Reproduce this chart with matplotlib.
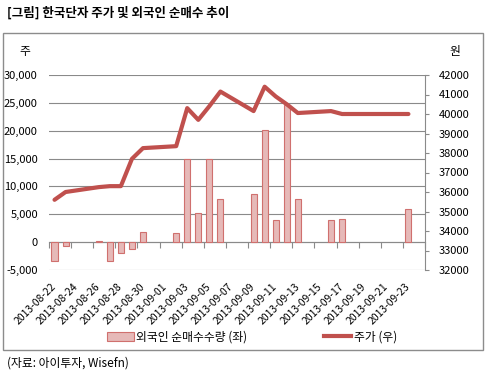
import numpy as np
import pandas as pd
import matplotlib
matplotlib.use("Agg")
from matplotlib import pyplot as plt
import matplotlib.dates as mdates
import matplotlib.patches as mpatches
from matplotlib.lines import Line2D
from matplotlib.ticker import FuncFormatter

plt.rcParams['font.family'] = ['Noto Sans CJK KR', 'DejaVu Sans']

# trading days
dates = pd.to_datetime([
    "2013-08-22", "2013-08-23", "2013-08-26", "2013-08-27", "2013-08-28",
    "2013-08-29", "2013-08-30", "2013-09-02", "2013-09-03", "2013-09-04",
    "2013-09-05", "2013-09-06", "2013-09-09", "2013-09-10", "2013-09-11",
    "2013-09-12", "2013-09-13", "2013-09-16", "2013-09-17", "2013-09-23"])
net_buy = [-3400, -700, 150, -3300, -2000, -1300, 1900, 1700, 15000, 5300,
           14900, 7700, 8700, 20200, 3900, 24700, 7700, 3900, 4100, 5900]
price = [35600, 36000, 36250, 36300, 36300, 37700, 38250, 38350, 40300, 39700,
         40400, 41150, 40150, 41400, 40900, 40500, 40050, 40150, 40000, 40000]
label_dates = pd.date_range("2013-08-22", "2013-09-23", freq="2D")
bar_name = "외국인 순매수수량 (좌)"
line_name = "주가 (우)"

x = mdates.date2num(dates)
x0 = mdates.date2num(pd.Timestamp("2013-08-22")) - 0.5
x1 = mdates.date2num(pd.Timestamp("2013-09-24")) + 0.5

bar_face = "#e6b9b8"
bar_edge = "#d0706e"
line_col = "#c0504d"
grid_col = "#8a8a8a"

fig = plt.figure(figsize=(4.89, 3.73), dpi=100)
ax = fig.add_axes([49 / 489, 1 - 270 / 373, 376 / 489, 195 / 373])
ax2 = ax.twinx()

ax.bar(x, net_buy, width=0.55, color=bar_face, edgecolor=bar_edge, linewidth=0.8, zorder=2)
ax.set_xlim(x0, x1)
ax.set_ylim(-5000, 30000)
ax.set_yticks(np.arange(-5000, 30001, 5000))
ax.yaxis.set_major_formatter(FuncFormatter(lambda v, p: f"{int(v):,}"))
ax.grid(axis='y', color=grid_col, linewidth=0.8)
ax.set_axisbelow(True)
for s in ax.spines.values():
    s.set_visible(False)
ax.tick_params(axis='y', length=0, pad=8, labelsize=8)

# labels at bottom
ax.set_xticks(mdates.date2num(label_dates))
ax.set_xticklabels([d.strftime("%Y-%m-%d") for d in label_dates], rotation=45,
                   ha='right', va='center', rotation_mode='anchor', fontsize=7.5)
ax.tick_params(axis='x', length=0, pad=11)

# zero axis line with tick marks
zero_loc = 5000 / 35000
sec = ax.secondary_xaxis(zero_loc)
sec.set_xticks(np.arange(x0, x1 + 0.1, 2))
sec.set_xticklabels([])
sec.tick_params(axis='x', length=4, color=grid_col, direction='out')
sec.spines['bottom'].set_color(grid_col)
sec.spines['bottom'].set_linewidth(0.8)

ax2.plot(x, price, color=line_col, linewidth=3, solid_joinstyle='round', solid_capstyle='round', zorder=3)
ax2.set_ylim(32000, 42000)
ax2.set_yticks(np.arange(32000, 42001, 1000))
for k, s in ax2.spines.items():
    s.set_visible(k == 'right')
ax2.spines['right'].set_color(grid_col)
ax2.spines['right'].set_linewidth(0.8)
ax2.tick_params(axis='y', length=3, color=grid_col, pad=7, labelsize=8)

fig.text(7 / 489, 1 - 13 / 373, "[그림] 한국단자 주가 및 외국인 순매수 추이", fontsize=9,
         fontweight='bold', ha='left', va='center')
fig.text(25 / 489, 1 - 52 / 373, "주", fontsize=8.5, ha='center', va='center')
fig.text(455 / 489, 1 - 52 / 373, "원", fontsize=8.5, ha='center', va='center')
fig.text(7 / 489, 1 - 363 / 373, "(자료: 아이투자, Wisefn)", fontsize=8.5, ha='left', va='center')

handles = [mpatches.Patch(facecolor=bar_face, edgecolor=bar_edge, linewidth=0.8),
           Line2D([], [], color=line_col, linewidth=3)]
fig.legend(handles, [bar_name, line_name], ncol=2, loc='center',
           bbox_to_anchor=(0.515, 1 - 337 / 373), frameon=False, fontsize=8.5,
           handlelength=2.3, handletextpad=0.2, columnspacing=6.5, handleheight=0.8)

fig.add_artist(mpatches.Rectangle((3 / 489, 1 - 350 / 373), 480 / 489, 317 / 373,
                                  transform=fig.transFigure, fill=False,
                                  edgecolor='#8c8c8c', linewidth=1))

plt.savefig("out.png", dpi=100)
plt.close('all')
